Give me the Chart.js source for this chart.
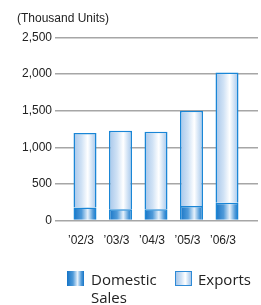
<!DOCTYPE html>
<html>
<head>
<meta charset="utf-8">
<script src="https://cdn.jsdelivr.net/npm/chart.js@4/dist/chart.umd.min.js"></script>
<style>
  html, body { margin: 0; padding: 0; background: #fff; }
  #wrap { position: relative; width: 261px; height: 305px; overflow: hidden; }
  #c { position: absolute; left: 0; top: 0; }
  .leg { position: absolute; font-family: "Open Sans", sans-serif; font-size: 15px; line-height: 17.5px; color: #222; }
  .box { position: absolute; width: 17px; height: 15px; box-sizing: border-box; }
</style>
</head>
<body>
<div id="wrap">
  <canvas id="c" width="261" height="305"></canvas>
  <div class="box" style="left:67px; top:271px; background: linear-gradient(to right, #1574c6 0%, #4f9ad9 35%, #e6f1fb 62%, #4f9ad9 85%, #1574c6 100%);"></div>
  <div class="leg" style="left:91px; top:271px;">Domestic<br>Sales</div>
  <div class="box" style="left:175px; top:271px; border:1px solid #2d8ad6; background: linear-gradient(to right, #a6c6ea 0%, #d0e2f5 35%, #ffffff 62%, #c6dcf3 85%, #a6c6ea 100%);"></div>
  <div class="leg" style="left:198px; top:271px;">Exports</div>
</div>
<script>
const categories = ["\u201902/3", "\u201903/3", "\u201904/3", "\u201905/3", "\u201906/3"];
const domesticSales = [180, 155, 155, 200, 245];
const exportsUnits = [1015, 1072, 1059, 1300, 1775];
const yTickValues = [0, 500, 1000, 1500, 2000, 2500];
const unitTitle = "(Thousand Units)";
const seriesNames = ["Domestic Sales", "Exports"];

const BAR_PCT = 0.648;

function gradientFill(stops, fallback) {
  return function (ctx) {
    const chart = ctx.chart;
    const xs = chart.scales && chart.scales.x;
    if (!chart.chartArea || !xs || ctx.dataIndex === undefined) return fallback;
    const cx = xs.getPixelForValue(ctx.dataIndex);
    const step = Math.abs(xs.getPixelForValue(1) - xs.getPixelForValue(0));
    const w = step * BAR_PCT;
    if (!isFinite(cx) || !isFinite(w) || w <= 0) return fallback;
    const g = chart.ctx.createLinearGradient(cx - w / 2, 0, cx + w / 2, 0);
    stops.forEach(s => g.addColorStop(s[0], s[1]));
    return g;
  };
}

const domesticStops = [[0, '#1574c6'], [0.35, '#4f9ad9'], [0.62, '#e6f1fb'], [0.85, '#4f9ad9'], [1, '#1574c6']];
const exportStops = [[0, '#a6c6ea'], [0.35, '#d0e2f5'], [0.62, '#ffffff'], [0.85, '#c6dcf3'], [1, '#a6c6ea']];

new Chart(document.getElementById('c'), {
  type: 'bar',
  data: {
    datasets: [
      {
        label: seriesNames[0],
        data: domesticSales.map((v, i) => ({ x: i, y: v })),
        backgroundColor: gradientFill(domesticStops, '#3b8bd2'),
        borderColor: '#1a86d6',
        borderWidth: 1.5,
        barPercentage: BAR_PCT,
        categoryPercentage: 1
      },
      {
        label: seriesNames[1],
        data: exportsUnits.map((v, i) => ({ x: i, y: v })),
        backgroundColor: gradientFill(exportStops, '#d0e2f5'),
        borderColor: '#1a86d6',
        borderWidth: 1.5,
        barPercentage: BAR_PCT,
        categoryPercentage: 1
      }
    ]
  },
  options: {
    responsive: false,
    animation: false,
    devicePixelRatio: 1,
    layout: { padding: { left: 17, right: 3, top: 0, bottom: 52 } },
    plugins: {
      legend: { display: false },
      tooltip: { enabled: false },
      title: {
        display: true,
        text: unitTitle,
        align: 'start',
        color: '#222',
        font: { family: '"Liberation Sans", Arial, sans-serif', size: 12, weight: 'normal' },
        padding: { top: 11, bottom: 12 }
      }
    },
    scales: {
      x: {
        type: 'linear',
        stacked: true,
        offset: false,
        min: -0.845,
        max: 4.873,
        grid: { display: false },
        border: { display: false },
        afterBuildTicks: (axis) => { axis.ticks = categories.map((_, i) => ({ value: i })); },
        ticks: {
          includeBounds: false,
          autoSkip: false,
          maxRotation: 0,
          padding: 5,
          labelOffset: -4,
          color: '#222',
          font: { family: '"Liberation Sans", Arial, sans-serif', size: 12 },
          callback: (v) => categories[v]
        }
      },
      y: {
        stacked: true,
        min: 0,
        max: 2500,
        afterBuildTicks: (axis) => { axis.ticks = yTickValues.map(v => ({ value: v })); },
        afterFit: (axis) => { axis.width = 38; },
        grid: { color: '#a6a6a6', lineWidth: 1.5, drawTicks: false },
        border: { display: false },
        ticks: {
          padding: 3,
          color: '#222',
          font: { family: '"Liberation Sans", Arial, sans-serif', size: 12 },
          callback: (v) => v.toLocaleString('en-US')
        }
      }
    }
  }
});
</script>
</body>
</html>
